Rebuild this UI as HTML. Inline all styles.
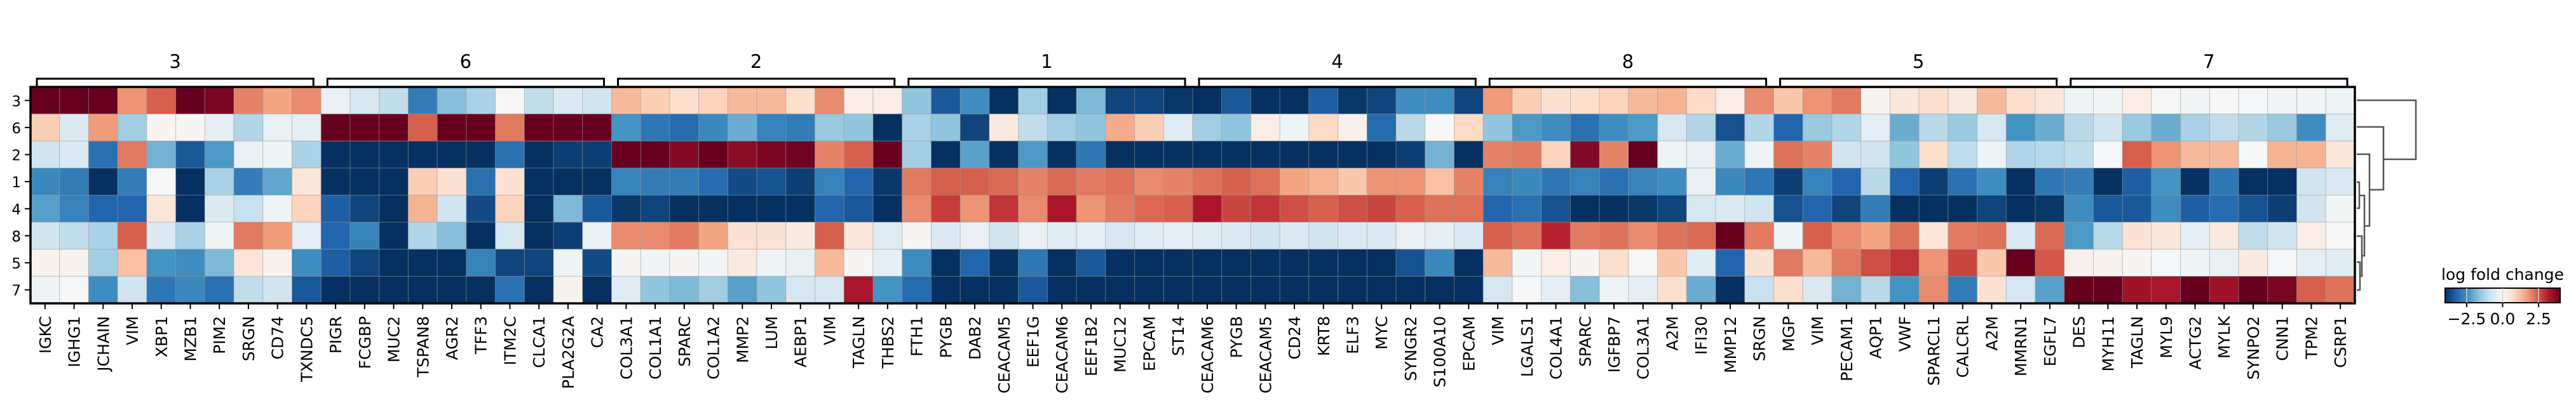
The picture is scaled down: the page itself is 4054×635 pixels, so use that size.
<!DOCTYPE html>
<html><head><meta charset="utf-8"><style>
html,body{margin:0;padding:0;background:#fff;}
svg{display:block;font-family:"DejaVu Sans","Liberation Sans",sans-serif;}
</style></head><body>
<svg id="chart" width="4054" height="635" viewBox="0 0 4054 635" xmlns="http://www.w3.org/2000/svg"></svg>
<script>
const rowLabels=["3","6","2","1","4","8","5","7"];
const groupNames=["3","6","2","1","4","8","5","7"];
const genes=["IGKC","IGHG1","JCHAIN","VIM","XBP1","MZB1","PIM2","SRGN","CD74","TXNDC5",
"PIGR","FCGBP","MUC2","TSPAN8","AGR2","TFF3","ITM2C","CLCA1","PLA2G2A","CA2",
"COL3A1","COL1A1","SPARC","COL1A2","MMP2","LUM","AEBP1","VIM","TAGLN","THBS2",
"FTH1","PYGB","DAB2","CEACAM5","EEF1G","CEACAM6","EEF1B2","MUC12","EPCAM","ST14",
"CEACAM6","PYGB","CEACAM5","CD24","KRT8","ELF3","MYC","SYNGR2","S100A10","EPCAM",
"VIM","LGALS1","COL4A1","SPARC","IGFBP7","COL3A1","A2M","IFI30","MMP12","SRGN",
"MGP","VIM","PECAM1","AQP1","VWF","SPARCL1","CALCRL","A2M","MMRN1","EGFL7",
"DES","MYH11","TAGLN","MYL9","ACTG2","MYLK","SYNPO2","CNN1","TPM2","CSRP1"];
const valsRow3=[4,4,4,1.8,2.4,4,3.8,2.0,1.6,1.9, -0.3,-0.7,-1.0,-2.8,-1.7,-1.3,0,-1.0,-0.6,-0.8, 1.3,1.0,0.7,0.9,1.3,1.3,0.7,1.9,0.3,0.3, -1.6,-3.4,-2.5,-4,-1.4,-4,-1.8,-3.7,-3.7,-3.9, -4,-3.4,-4,-4,-3.3,-3.9,-3.7,-2.5,-2.5,-3.7, 1.7,1.0,0.6,0.7,0.9,1.3,1.4,0.8,0.3,1.9, 1.1,1.8,2.1,0.1,0.5,0.7,0.4,1.3,0.7,0.5, -0.2,-0.1,0.3,0,-0.1,0,-0.05,-0.1,-0.1,-0.2];
const valsRow6=[1.0,-0.6,1.7,-1.4,0.1,0.05,-0.4,-1.2,-0.3,-0.4, 4,4,4,2.4,4,4,2.1,4,4,4, -2.4,-2.9,-3.1,-2.6,-2.0,-2.7,-2.8,-1.5,-1.6,-4, -1.3,-1.6,-3.7,0.4,-1.0,-1.4,-1.6,1.5,1.0,-0.5, -1.4,-1.6,0.3,-0.2,0.8,0.2,-3.1,-1.1,0,0.8, -1.6,-2.3,-2.5,-3.0,-2.5,-2.3,-0.7,-1.2,-3.5,-1.2, -3.2,-1.5,-1.2,-0.4,-2.0,-1.1,-1.5,-0.7,-2.4,-2.0, -1.1,-0.8,-1.5,-2.0,-1.3,-1.0,-1.2,-1.5,-2.5,-0.5];
const valsRow2=[-0.8,-0.6,-3.0,2.1,-1.9,-3.4,-2.3,-0.3,-0.2,-1.3, -4,-4,-4,-4,-4,-4,-3.0,-4,-3.8,-3.8, 4,4,3.7,4,3.6,3.8,3.9,2.0,2.4,4, -1.4,-4,-2.2,-4,-2.3,-4,-2.9,-4,-4,-4, -4,-4,-4,-4,-4,-4,-4,-3.8,-1.9,-4, 2.0,2.1,0.9,3.7,2.0,4,-0.2,-0.3,-2.0,-0.2, 2.2,2.0,-0.8,-0.8,-1.6,0.7,-1.0,-0.2,-1.2,-1.1, -1.0,-0.05,2.4,1.8,1.3,1.3,-0.02,1.4,1.4,0.5];
const valsRow1=[-2.6,-2.8,-4,-2.8,0,-4,-1.3,-2.8,-2.1,0.5, -4,-4,-4,1.0,0.6,-3.0,0.6,-4,-4,-4, -2.7,-2.8,-2.8,-3.1,-3.6,-3.5,-3.8,-2.7,-3.2,-3.9, 2.1,2.4,2.4,2.3,2.0,2.3,2.1,2.2,1.9,2.0, 2.2,2.4,2.2,1.6,1.4,1.1,1.8,1.8,1.2,2.0, -2.7,-2.6,-2.9,-2.7,-3.0,-2.7,-2.5,-0.3,-2.6,-2.9, -3.8,-2.7,-3.2,-1.1,-3.2,-3.8,-3.0,-2.5,-4,-2.9, -2.8,-4,-3.3,-2.4,-4,-2.9,-4,-4,-0.8,-0.6];
const valsRow4=[-2.2,-2.7,-3.2,-3.2,0.5,-4,-0.6,-0.9,-0.2,0.9, -3.3,-3.7,-4,1.4,-0.8,-3.6,0.9,-4,-1.8,-3.4, -3.9,-3.7,-4,-4,-4,-4,-4,-3.2,-3.4,-4, 1.9,2.8,1.8,2.9,1.9,3.3,1.8,2.1,2.3,2.4, 3.3,2.7,2.9,2.6,2.4,2.6,2.7,2.4,2.2,2.2, -3.2,-3.0,-3.5,-4,-4,-3.9,-3.7,-0.7,-0.6,-0.8, -3.5,-3.2,-3.7,-2.8,-4,-4,-4,-3.7,-4,-3.9, -2.5,-3.4,-3.4,-2.5,-3.3,-3.1,-3.5,-3.8,-0.8,-0.1];
const valsRow8=[-0.8,-1.0,-1.3,2.4,-0.6,-1.3,-0.2,2.1,1.7,-0.4, -3.2,-2.7,-4,-1.2,-1.7,-4,-0.7,-4,-3.8,-0.3, 1.9,1.9,2.1,1.6,0.6,0.6,0.4,2.4,0.5,-0.5, 0.05,-0.6,-0.3,-0.8,-0.3,-0.5,-0.4,-0.7,-0.5,-0.4, -0.5,-0.6,-0.8,-0.6,-0.8,-0.6,-0.6,-0.3,-0.4,-0.6, 2.4,2.2,3.1,2.1,2.2,1.9,2.2,2.3,4,2.1, -0.2,2.4,1.9,1.6,2.2,0.5,2.1,2.2,-0.6,2.3, -2.3,-1.1,0.6,0.5,-0.4,0.4,-1.0,-0.8,0.3,0];
const valsRow5=[0.15,0.15,-1.4,1.2,-2.4,-2.5,-1.8,0.5,0.15,-2.5, -3.3,-3.7,-4,-4,-4,-2.7,-3.7,-3.7,-0.2,-3.6, 0.05,-0.15,0.05,-0.1,0.4,-0.2,-0.3,1.3,0.05,-0.4, -2.5,-4,-3.2,-4,-2.9,-4,-3.4,-4,-4,-4, -4,-4,-4,-4,-4,-4,-4,-3.5,-2.6,-4, 1.3,-0.1,0.3,0.1,0.7,0.0,1.1,-0.5,-3.2,0.6, 2.1,1.3,2.1,2.6,2.9,1.8,2.7,1.1,4,2.5, 0.2,0.15,0.1,-0.05,-0.2,-0.3,0.4,-0.05,-0.4,-0.5];
const valsRow7=[-0.2,-0.05,-2.5,-0.8,-2.9,-2.6,-3.0,-1.0,-0.8,-3.4, -4,-4,-4,-4,-4,-4,-3.0,-4,0.15,-4, -0.5,-1.6,-1.8,-1.4,-2.2,-1.6,-0.7,-0.7,3.3,-2.4, -3.1,-4,-4,-4,-3.4,-4,-4,-4,-4,-4, -4,-4,-4,-4,-4,-4,-4,-4,-4,-4, -0.7,-0.05,-0.4,-1.7,-0.2,-0.4,0.7,-2.0,-4,-0.9, 0.7,-0.6,-1.9,-1.1,-2.4,1.9,-2.8,0.6,-0.7,-2.2, 4,4,3.4,3.3,4,3.4,4,3.8,2.4,2.2];
const values=[valsRow3,valsRow6,valsRow2,valsRow1,valsRow4,valsRow8,valsRow5,valsRow7];
const cbTicks=[-2.5,0,2.5];
const cbTickLabels=["\u22122.5","0.0","2.5"];

const NS="http://www.w3.org/2000/svg";
const svg=document.getElementById('chart');
function mk(tag,attrs,parent){const e=document.createElementNS(NS,tag);for(const k in attrs)e.setAttribute(k,attrs[k]);(parent||svg).appendChild(e);return e;}
const X0=48,X1=3706,Y0=137,Y1=478;
const cw=(X1-X0)/genes.length, rh=(Y1-Y0)/rowLabels.length;
const xPos=i=>X0+i*cw, yPos=r=>Y0+r*rh;
const VMIN=-4,VMAX=4;
const stops=["#053061","#2166ac","#4393c3","#92c5de","#d1e5f0","#f7f7f7","#fddbc7","#f4a582","#d6604d","#b2182b","#67001f"];
function hx(c){return [1,3,5].map(i=>parseInt(c.substr(i,2),16));}
function color(v){let t=(Math.max(VMIN,Math.min(VMAX,v))-VMIN)/(VMAX-VMIN)*10;let i=Math.min(9,Math.floor(t));let f=t-i;const a=hx(stops[i]),b=hx(stops[i+1]);return "rgb("+a.map((x,k)=>Math.round(x+(b[k]-x)*f)).join(",")+")";}

const gCells=mk('g',{});


values.forEach((row,r)=>{row.forEach((v,c)=>{
  const el=mk('rect',{x:xPos(c),y:yPos(r),width:cw,height:rh,fill:color(v),stroke:'rgba(150,150,150,0.45)','stroke-width':1},gCells);
  
  
});});
const border=mk('rect',{x:X0,y:Y0,width:X1-X0,height:Y1-Y0,fill:'none',stroke:'#000','stroke-width':3.5});



rowLabels.forEach((l,r)=>{
  const cy=yPos(r)+rh/2;
  const t=mk('line',{x1:X0-9,x2:X0,y1:cy,y2:cy,stroke:'#000','stroke-width':2});
  
  
  const tx=mk('text',{x:X0-15,y:cy+9,'text-anchor':'end','font-size':23,fill:'#000'});
  tx.textContent=l;
  
  
});
genes.forEach((g,c)=>{
  const cx=xPos(c)+cw/2;
  const t=mk('line',{x1:cx,x2:cx,y1:Y1,y2:Y1+9,stroke:'#000','stroke-width':2});
  
  
  const tx=mk('text',{x:0,y:0,'text-anchor':'end','font-size':25,fill:'#000',transform:'translate('+(cx+9)+',498) rotate(-90)'});
  tx.textContent=g;
  
  
});
const per=genes.length/groupNames.length;
groupNames.forEach((g,i)=>{
  const a=xPos(i*per)+10,b=xPos((i+1)*per)-12;
  const p=mk('path',{d:'M'+a+' '+Y0+' V124 H'+b+' V'+Y0,fill:'none',stroke:'#000','stroke-width':3});
  
  
  const tx=mk('text',{x:(a+b)/2,y:107,'text-anchor':'middle','font-size':29,fill:'#000'});
  tx.textContent=g;
  
  
});
// dendrogram
const dendro=mk('path',{fill:'none',stroke:'#555','stroke-width':2.5,d:
 'M3709 158 H3802 V251 H3751 '+
 'M3709 200 H3751 V299 H3729 '+
 'M3709 243 H3729 V356 H3721 '+
 'M3709 287 H3713 V328 H3709 M3713 308 H3721 V403 H3717 '+
 'M3709 372 H3717 V435 H3714 M3709 413 H3714 V457 H3709'});


// colorbar
const CB0=3848,CB1=4029,CBy=454,CBh=23;
const defs=mk('defs',{});
const lg=mk('linearGradient',{id:'cbg',x1:0,x2:1,y1:0,y2:0},defs);
stops.forEach((s,i)=>mk('stop',{offset:(i*10)+'%','stop-color':s},lg));
const cb=mk('rect',{x:CB0,y:CBy,width:CB1-CB0,height:CBh,fill:'url(#cbg)',stroke:'#000','stroke-width':2});


const cbx=v=>CB0+(v-VMIN)/(VMAX-VMIN)*(CB1-CB0);
cbTicks.forEach((v,i)=>{
  const x=cbx(v);
  const l=mk('line',{x1:x,x2:x,y1:CBy,y2:CBy+CBh,stroke:'#ccc','stroke-width':1.5});
  
  
  const t=mk('line',{x1:x,x2:x,y1:CBy+CBh,y2:CBy+CBh+7,stroke:'#000','stroke-width':2});
  
  
  const tx=mk('text',{x:x,y:CBy+CBh+34,'text-anchor':'middle','font-size':25,fill:'#000'});
  tx.textContent=cbTickLabels[i];
  
  
});
const ct=mk('text',{x:(CB0+CB1)/2,y:441,'text-anchor':'middle','font-size':25,fill:'#000'});
ct.textContent='log fold change';


</script>
</body></html>
